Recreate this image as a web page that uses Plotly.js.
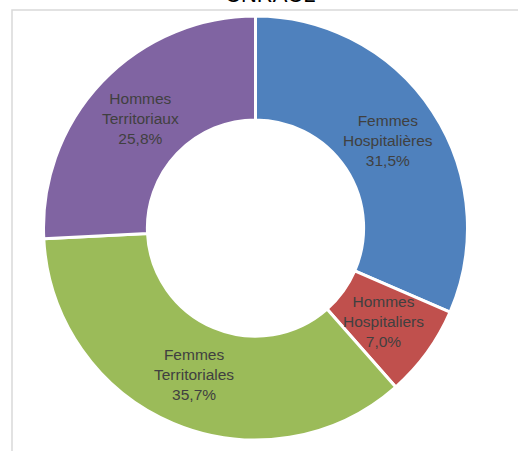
<!DOCTYPE html>
<html>
<head>
<meta charset="utf-8">
<script src="https://cdn.plot.ly/plotly-3.0.1.min.js"></script>
<style>html,body{margin:0;padding:0;background:#fff;}#chart{width:518px;height:451px;}</style>
</head>
<body>
<div id="chart"></div>
<script>
const title = "CNRACL";
const categories = ["Femmes Hospitalières", "Hommes Hospitaliers", "Femmes Territoriales", "Hommes Territoriaux"];
const values = [31.5, 7.0, 35.7, 25.8];
const colors = ["#4F81BD", "#C0504D", "#9BBB59", "#8064A2"];

const W = 518, H = 451;
const margin = {l: 0, r: 7, t: 16, b: 11};
const pw = W - margin.l - margin.r, ph = H - margin.t - margin.b;
const R = Math.min(pw, ph) / 2 - 2;
const holeFrac = 0.51;
const labelR = R * (1 + holeFrac) / 2;

const total = values.reduce((a, b) => a + b, 0);
const annotations = [];
let cum = 0;
values.forEach((v, i) => {
  const a = (cum + v / 2) / total * 2 * Math.PI;
  cum += v;
  const pct = (v / total * 100).toFixed(1).replace('.', ',') + '%';
  annotations.push({
    xref: 'paper', yref: 'paper',
    x: 0.5 + labelR * Math.sin(a) / pw,
    y: 0.5 + labelR * Math.cos(a) / ph,
    text: categories[i].replace(' ', '<br>') + '<br>' + pct,
    showarrow: false,
    font: {family: 'Liberation Sans, Arial, sans-serif', size: 15.5, color: '#404040'},
    xanchor: 'center', yanchor: 'middle'
  });
});
annotations.push({
  xref: 'paper', yref: 'paper', x: 270 / pw, y: 1 + (margin.t - 3) / ph,
  yanchor: 'bottom', xanchor: 'center', yshift: -6,
  text: title, showarrow: false,
  font: {family: 'Liberation Sans, Arial, sans-serif', size: 22, color: '#000000'}
});

const data = [{
  type: 'pie',
  labels: categories,
  values: values,
  sort: false,
  direction: 'clockwise',
  rotation: 0,
  hole: holeFrac,
  marker: {colors: colors, line: {color: '#ffffff', width: 3}},
  textinfo: 'none',
  hoverinfo: 'label+percent',
  showlegend: false
}];

const layout = {
  width: W, height: H,
  margin: margin,
  paper_bgcolor: '#ffffff',
  showlegend: false,
  separators: ', ',
  annotations: annotations,
  shapes: [{
    type: 'rect', xref: 'paper', yref: 'paper',
    x0: (12 - margin.l) / pw, x1: 1.2,
    y0: -0.2, y1: 1 + (margin.t - 10) / ph,
    line: {color: '#D9D9D9', width: 1.5}, fillcolor: 'rgba(0,0,0,0)'
  }]
};

Plotly.newPlot('chart', data, layout, {displayModeBar: false, staticPlot: true});
</script>
</body>
</html>
